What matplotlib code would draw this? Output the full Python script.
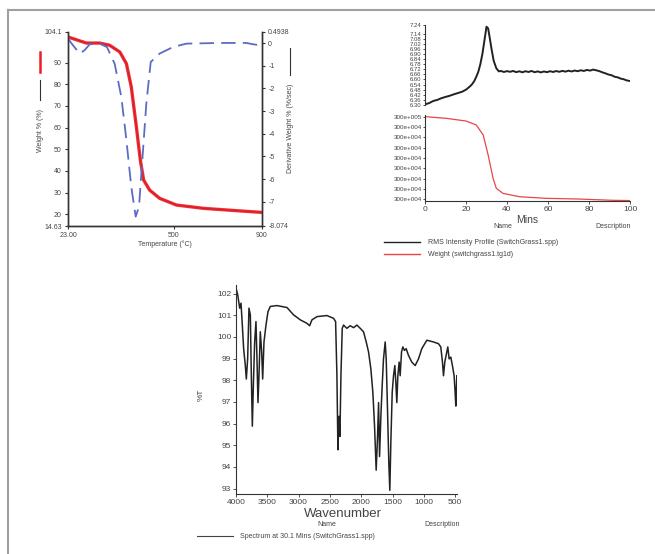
import matplotlib
matplotlib.use("Agg")
import matplotlib.pyplot as plt
from matplotlib.lines import Line2D

plt.rcParams['font.family'] = ['Liberation Sans', 'DejaVu Sans']

W, H = 655, 554

# ---------------- TGA data ----------------
tga_temp = [23, 106, 166, 211, 257, 287, 309, 332, 350, 365, 392, 437, 513, 633, 784, 900]
tga_weight = [101.8, 99.0, 99.0, 98.0, 94.9, 89.5, 78.8, 60.4, 45.0, 35.8, 31.2, 27.4, 24.3, 22.8, 21.7, 20.9]
dtg_temp = [23, 46, 76, 98, 121, 166, 199, 234, 264, 287, 309, 329, 344, 359, 377, 397, 437, 498, 558, 709, 830, 860, 900]
dtg_val = [0.20, -0.10, -0.46, -0.31, -0.05, -0.02, -0.17, -0.91, -2.37, -4.28, -6.34, -7.66, -7.22, -5.16, -2.67, -0.83,
           -0.46, -0.17, -0.02, 0.01, 0.01, -0.05, -0.10]
tga_yticks = [14.63, 20, 30, 40, 50, 60, 70, 80, 90, 104.1]
tga_yticklabels = ["14.63", "20", "30", "40", "50", "60", "70", "80", "90", "104.1"]
dtg_yticks = [-8.074, -7, -6, -5, -4, -3, -2, -1, 0, 0.4938]
dtg_yticklabels = ["-8.074", "-7", "-6", "-5", "-4", "-3", "-2", "-1", "0", "0.4938"]
tga_xticks = [23, 500, 900]
tga_xticklabels = ["23.00", "500", "900"]

# ---------------- RMS / weight vs time ----------------
rms_t = [0, 2, 4, 6, 8, 10, 12, 14, 16, 18, 20, 21, 22, 23, 24, 25, 26, 27, 28, 29, 30, 30.8, 31.5, 32.4, 33.5, 34.8,
         36, 37, 38.5, 40, 41.5, 43, 44.5, 46, 47.5, 49, 50.5, 52, 53.5, 55, 56.5, 58, 59.5, 61, 62.5, 64, 65.5, 67,
         68.5, 70, 71.5, 73, 74.5, 76, 77.5, 79, 80.5, 82, 83.5, 85, 86.5, 88, 89.5, 91, 92.5, 94, 95.5, 97, 98.5, 100]
rms_val = [6.308, 6.322, 6.347, 6.360, 6.380, 6.395, 6.408, 6.425, 6.440, 6.455, 6.480, 6.500, 6.520, 6.545, 6.580,
           6.630, 6.690, 6.780, 6.900, 7.060, 7.220, 7.200, 7.100, 6.966, 6.820, 6.731, 6.695, 6.700, 6.688, 6.698,
           6.690, 6.700, 6.686, 6.696, 6.684, 6.697, 6.688, 6.700, 6.685, 6.695, 6.683, 6.694, 6.686, 6.697, 6.688,
           6.699, 6.690, 6.701, 6.692, 6.703, 6.694, 6.705, 6.697, 6.708, 6.700, 6.712, 6.704, 6.716, 6.708, 6.698,
           6.684, 6.672, 6.658, 6.650, 6.632, 6.625, 6.610, 6.602, 6.588, 6.582]
rms_yticks = [6.30, 6.36, 6.42, 6.48, 6.54, 6.60, 6.66, 6.72, 6.78, 6.84, 6.90, 6.96, 7.02, 7.08, 7.14, 7.24]
wt_t = [0, 10.5, 20, 25, 28.4, 30.8, 33.2, 34.8, 38, 46, 59, 75, 91.6, 100]
wt_val = [98.1, 96.1, 93.0, 88.4, 76.7, 53.5, 26.4, 14.7, 8.9, 5.0, 3.1, 2.3, 0.8, 0.5]
wt_yticks = [2, 14, 26, 38, 50, 62, 74, 86, 98]
wt_yticklabels = ["300e+004"] * 8 + ["300e+005"]
time_xticks = [0, 20, 40, 60, 80, 100]

# ---------------- FTIR ----------------
ir_wn = [4000, 3973, 3941, 3920, 3899, 3878, 3851, 3835, 3814, 3793, 3771, 3755, 3739, 3723, 3702, 3681, 3665, 3649,
         3633, 3612, 3590, 3574, 3553, 3521, 3489, 3452, 3346, 3186, 3080, 2973, 2867, 2824, 2787, 2707, 2548, 2441,
         2409, 2388, 2372, 2356, 2340, 2324, 2303, 2282, 2255, 2229, 2176, 2122, 2069, 2016, 1963, 1920, 1883, 1846,
         1814, 1787, 1761, 1739, 1723, 1707, 1686, 1665, 1644, 1617, 1601, 1580, 1559, 1543, 1527, 1505, 1484, 1463,
         1447, 1431, 1415, 1394, 1378, 1356, 1335, 1309, 1282, 1245, 1192, 1138, 1085, 1032, 952, 846, 766, 729, 702,
         686, 665, 644, 617, 596, 569, 543, 516, 500, 489, 473]
ir_t = [102.26, 101.95, 101.33, 101.56, 100.55, 99.46, 98.68, 98.06, 98.99, 101.33, 101.02, 98.21, 95.88, 97.75,
        99.77, 100.71, 98.99, 96.97, 98.21, 100.24, 99.31, 98.06, 99.77, 100.55, 101.17, 101.41, 101.45, 101.36,
        101.02, 100.79, 100.63, 100.52, 100.79, 100.94, 100.99, 100.86, 100.71, 98.21, 94.79, 96.34, 95.41, 98.21,
        100.40, 100.55, 100.47, 100.40, 100.52, 100.43, 100.55, 100.40, 100.24, 99.77, 99.31, 98.53, 97.44, 95.88,
        93.85, 95.41, 96.97, 94.48, 96.34, 97.75, 98.99, 99.77, 98.99, 96.66, 94.17, 92.92, 95.10, 97.44, 98.21,
        98.68, 97.90, 96.97, 98.21, 98.84, 98.21, 99.31, 99.54, 99.38, 99.46, 99.15, 98.84, 98.68, 98.99, 99.46,
        99.85, 99.77, 99.69, 99.54, 98.84, 98.21, 98.84, 99.15, 99.54, 98.99, 99.07, 98.68, 98.21, 97.44, 96.81, 98.21]
ir_yticks = [93, 94, 95, 96, 97, 98, 99, 100, 101, 102]
ir_xticks = [4000, 3500, 3000, 2500, 2000, 1500, 1000, 500]

fig = plt.figure(figsize=(W / 100, H / 100), dpi=100)


def rect(l, t, r, b):
    return [l / W, 1 - b / H, (r - l) / W, (b - t) / H]


def fx(x):
    return x / W


def fy(y):
    return 1 - y / H


def ftext(x, y, s, **kw):
    fig.text(fx(x), fy(y), s, **kw)


def fline(x0, y0, x1, y1, **kw):
    fig.add_artist(Line2D([fx(x0), fx(x1)], [fy(y0), fy(y1)], transform=fig.transFigure, **kw))


tc = '#444444'
sc = '#333333'

# outer frame
fline(8, 10, 660, 10, color='#a0a0a0', lw=1.5)
fline(8, 10, 8, 560, color='#a0a0a0', lw=1.5)

# ---------------- TGA panel ----------------
ax1 = fig.add_axes(rect(68, 32, 262, 226))
ax1.plot(tga_temp, tga_weight, color='#333333', lw=1.0, zorder=2)
ax1.plot(tga_temp, tga_weight, color='#ee1c25', lw=2.4, alpha=0.9, zorder=3)
ax1.set_xlim(23, 900)
ax1.set_ylim(14.63, 104.1)
ax1.set_yticks(tga_yticks)
ax1.set_yticklabels(tga_yticklabels)
ax1.set_xticks(tga_xticks)
ax1.set_xticklabels(tga_xticklabels)
ax2 = ax1.twinx()
ax2.plot(dtg_temp, dtg_val, color='#5b6cc4', lw=1.3, dashes=(8, 4))
ax2.set_ylim(-8.074, 0.4938)
ax2.set_yticks(dtg_yticks)
ax2.set_yticklabels(dtg_yticklabels)
for a in (ax1, ax2):
    a.spines['top'].set_visible(False)
    for s in a.spines.values():
        s.set_color(sc)
        s.set_linewidth(1.0)
    a.tick_params(length=2.5, width=0.8, labelsize=5, labelcolor=tc, color=sc, pad=2)
ax1.text(0.5, -0.075, "Temperature (°C)", transform=ax1.transAxes, ha='center', va='top', fontsize=5, color=tc)
ftext(40, 130, "Weight % (%)", rotation=90, ha='center', va='center', fontsize=5, color=tc)
fline(40, 52, 40, 72, color='#ee1c25', lw=1.8)
fline(40, 80, 40, 100, color='#333333', lw=0.8)
ftext(290, 128, "Derivative Weight % (%/sec)", rotation=90, ha='center', va='center', fontsize=5, color=tc)
fline(290, 48, 290, 75, color='#333333', lw=0.8)

# ---------------- RMS panel ----------------
ax3 = fig.add_axes(rect(425, 25, 630, 105))
ax3.plot(rms_t, rms_val, color='#222222', lw=1.4)
ax3.set_xlim(0, 100)
ax3.set_ylim(6.30, 7.24)
ax3.set_yticks(rms_yticks)
ax3.set_yticklabels(["%.2f" % v for v in rms_yticks])
ax3.set_xticks([])
for k in ('top', 'right', 'bottom'):
    ax3.spines[k].set_visible(False)
ax3.spines['left'].set_color(sc)
ax3.tick_params(length=1.5, width=0.6, labelsize=4.3, labelcolor=tc, color=sc, pad=1)

ax4 = fig.add_axes(rect(425, 115, 630, 201))
ax4.plot(wt_t, wt_val, color='#e8454a', lw=0.9)
ax4.set_xlim(0, 100)
ax4.set_ylim(0, 100)
ax4.set_yticks(wt_yticks)
ax4.set_yticklabels(wt_yticklabels)
ax4.set_xticks(time_xticks)
for k in ('top', 'right'):
    ax4.spines[k].set_visible(False)
for k in ('left', 'bottom'):
    ax4.spines[k].set_color(sc)
ax4.tick_params(axis='y', length=1.5, width=0.6, labelsize=4.5, labelcolor=tc, color=sc, pad=1)
ax4.tick_params(axis='x', length=2, width=0.6, labelsize=6, labelcolor=tc, color=sc, pad=1.5)
ax4.text(0.5, -0.16, "Mins", transform=ax4.transAxes, ha='center', va='top', fontsize=7.5, color=tc)
ftext(503, 227, "Name", ha='center', va='center', fontsize=5, color=tc)
ftext(613, 227, "Description", ha='center', va='center', fontsize=5, color=tc)
fline(384, 242, 420, 242, color='#222222', lw=1.0)
ftext(428, 242, "RMS Intensity Profile (SwitchGrass1.spp)", ha='left', va='center', fontsize=5, color=tc)
fline(384, 254, 420, 254, color='#e8454a', lw=1.0)
ftext(428, 254, "Weight (switchgrass1.tg1d)", ha='left', va='center', fontsize=5, color=tc)

# ---------------- FTIR panel ----------------
ax5 = fig.add_axes(rect(236, 285, 457, 494))
ax5.plot(ir_wn, ir_t, color='#222222', lw=1.1)
ax5.set_xlim(4000, 470)
ax5.set_ylim(92.75, 102.4)
ax5.set_yticks(ir_yticks)
ax5.set_xticks(ir_xticks)
for k in ('top', 'right'):
    ax5.spines[k].set_visible(False)
for k in ('left', 'bottom'):
    ax5.spines[k].set_color(sc)
ax5.tick_params(length=2, width=0.6, labelsize=6, labelcolor=tc, color=sc, pad=1.5)
ftext(201, 395, "%T", rotation=90, ha='center', va='center', fontsize=6, color=tc)
ftext(343, 514, "Wavenumber", ha='center', va='center', fontsize=9.5, color=tc)
ftext(327, 524, "Name", ha='center', va='center', fontsize=5, color=tc)
ftext(442, 524, "Description", ha='center', va='center', fontsize=5, color=tc)
fline(197, 536, 233, 536, color='#444444', lw=0.8)
ftext(240, 536, "Spectrum at 30.1 Mins (SwitchGrass1.spp)", ha='left', va='center', fontsize=5, color=tc)

fig.savefig("out.png", dpi=100)
